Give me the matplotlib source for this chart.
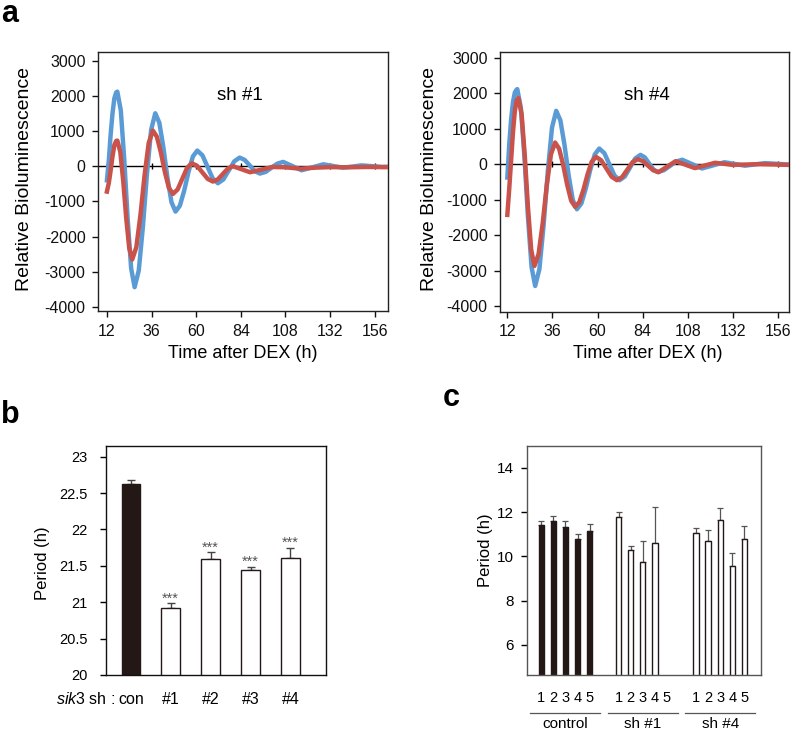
import numpy as np
import matplotlib
matplotlib.use('Agg')
import matplotlib.pyplot as plt
import matplotlib.transforms as mtransforms

plt.rcParams['font.family'] = ['Liberation Sans', 'DejaVu Sans']
plt.rcParams['axes.unicode_minus'] = False
plt.rcParams['mathtext.fontset'] = 'custom'
plt.rcParams['mathtext.rm'] = 'Liberation Sans'
plt.rcParams['mathtext.it'] = 'Liberation Sans:italic'

# ---------------- data: panel a ----------------
a_xticks = [12, 36, 60, 84, 108, 132, 156]
a_yticks = [-4000, -3000, -2000, -1000, 0, 1000, 2000, 3000]

# sh #1 panel: blue (control) and red (knock-down) traces
t_sh1_blue = [12, 13, 14, 15, 16, 17, 17.6, 19.46, 21.32, 23.18, 25.04, 26.9, 29.12, 31.34, 33.56,
              35.78, 38.0, 40.18, 42.36, 44.54, 46.72, 48.9, 51.24, 53.58, 55.92, 58.26, 60.6, 63.4,
              66.15, 68.9, 71.7, 74.6, 77.55, 80.5, 83.4, 86.1, 88.85, 91.6, 94.3, 97.4, 100.55, 103.7,
              106.8, 111.75, 116.7, 122.55, 128.4, 133.7, 139, 144, 149, 154.5, 160, 163]
v_sh1_blue = [-400, 150, 900, 1500, 1930, 2100, 2120, 1589, 200, -1517, -2906, -3437, -2965, -1729, -202,
              1034, 1506, 1239, 541, -323, -1021, -1288, -1122, -689, -154, 280, 445, 309,
              -19, -347, -483, -376, -118, 139, 246, 180, 19, -142, -208, -160, -42, 75,
              123, 5, -114, -30, 55, 7, -40, -8, 25, 2, -20, -15]
t_sh1_red = [12, 13, 14, 15, 16, 17, 17.6, 19.2, 20.8, 22.4, 24.0, 25.6, 27.82, 30.04, 32.26, 34.48,
             36.7, 38.86, 41.02, 43.18, 45.34, 47.5, 50.05, 52.6, 55.15, 57.7, 60.5, 63.35, 66.2, 69,
             71.7, 74.4, 77.1, 79.8, 84.4, 89, 95, 101, 108, 116, 124, 132, 142, 152, 163]
v_sh1_red = [-720, -480, -120, 280, 600, 720, 729, 406, -439, -1483, -2328, -2651, -2301, -1385, -253, 663,
             1013, 841, 391, -164, -614, -786, -658, -350, -43, 85, 9, -175, -359, -435,
             -371, -218, -64, 0, -85, -170, -97, -20, -30, -70, -40, -25, -30, -20, -25]

# sh #4 panel
t_sh4_blue = [12, 13, 14, 15, 16, 17, 17.3, 19.2, 21.1, 23.0, 24.9, 26.8, 29.04, 31.28, 33.52, 35.76,
              38.0, 40.2, 42.4, 44.6, 46.8, 49.0, 51.38, 53.76, 56.14, 58.52, 60.9, 63.6, 66.3, 69.0,
              71.7, 74.475, 77.25, 80.0, 82.8, 85.1, 87.4, 89.7, 92, 95.25, 98.5, 101.75, 105, 110.25,
              115.5, 121.5, 127.5, 133, 138.4, 143.7, 149, 155.5, 162]
v_sh4_blue = [-375, 550, 1250, 1750, 2020, 2105, 2113, 1584, 199, -1513, -2898, -3427, -2956, -1724, -201, 1031,
              1502, 1237, 545, -311, -1003, -1268, -1105, -678, -149, 278, 441, 311, -5, -320,
              -450, -346, -93, 159, 263, 192, 21, -149, -220, -169, -48, 74, 125, 3,
              -120, -32, 55, 6, -42, -6, 30, 10, -10]
t_sh4_red = [12, 13, 14, 15, 16, 17, 17.9, 19.6, 21.3, 23.0, 24.7, 26.4, 28.6, 30.8, 33.0, 35.2, 37.4,
             39.54, 41.68, 43.82, 45.96, 48.1, 50.3, 52.5, 54.7, 56.9, 59.1, 61.9, 64.7, 67.5, 70.3,
             73.05, 75.8, 78.55, 81.3, 84.1, 86.85, 89.6, 92.4, 96.95, 101.5, 106.65, 111.8, 117.15,
             122.5, 127.25, 132, 145, 155, 162]
v_sh4_red = [-1427, -700, 100, 900, 1500, 1800, 1859, 1408, 227, -1232, -2413, -2864, -2532, -1664, -590, 278, 610,
             437, -16, -576, -1029, -1202, -1067, -715, -280, 72, 207, 111, -122, -354, -450,
             -363, -155, 54, 141, 87, -42, -171, -225, -70, 85, -13, -110, -35,
             40, 10, -20, 0, -10, -20]

# ---------------- data: panel b ----------------
b_labels = ['con', '#1', '#2', '#3', '#4']
b_vals = [22.62, 20.92, 21.60, 21.44, 21.61]
b_err = [0.06, 0.07, 0.09, 0.05, 0.14]
b_sig = ['', '***', '***', '***', '***']
b_yticks = [20, 20.5, 21, 21.5, 22, 22.5, 23]

# ---------------- data: panel c ----------------
c_groups = ['control', 'sh #1', 'sh #4']
c_clone_labels = ['1', '2', '3', '4', '5']
c_control = [11.43, 11.58, 11.34, 10.77, 11.13]
c_control_err = [0.15, 0.24, 0.24, 0.25, 0.33]
c_sh1 = [11.78, 10.27, 9.75, 10.60, np.nan]
c_sh1_err = [0.22, 0.18, 0.93, 1.63, np.nan]
c_sh4 = [11.05, 10.69, 11.64, 9.57, 10.78]
c_sh4_err = [0.23, 0.48, 0.56, 0.58, 0.57]
c_yticks = [6, 8, 10, 12, 14]

# ---------------- figure ----------------
W, H = 791, 730
fig = plt.figure(figsize=(W / 100, H / 100), dpi=100)


def px_axes(l, t, r, b):
    return fig.add_axes([l / W, 1 - b / H, (r - l) / W, (b - t) / H])


BLUE = '#5B9BD5'
RED = '#C9524B'
DARK = '#231815'


def panel_a(ax, tb, vb, tr, vr, title, tpos, xlim, ylim):
    ax.axhline(0, color='black', lw=1, zorder=1)
    ax.plot(a_xticks, [0] * len(a_xticks), ls='none', marker='|', ms=4, mew=1,
            color='black', zorder=1)
    ax.plot(tb, vb, color=BLUE, lw=3.2, zorder=2)
    ax.plot(tr, vr, color=RED, lw=3.2, zorder=3)
    ax.set_xlim(xlim)
    ax.set_ylim(ylim)
    ax.set_xticks(a_xticks)
    ax.set_yticks(a_yticks)
    ax.tick_params(direction='out', length=4, width=1, labelsize=11.5, pad=5, colors='#111')
    ax.text(tpos[0], tpos[1], title, fontsize=13.5, ha='center', va='center')
    for s in ax.spines.values():
        s.set_color('#222')
        s.set_linewidth(1)


ax1 = px_axes(98, 52, 388, 311)
panel_a(ax1, t_sh1_blue, v_sh1_blue, t_sh1_red, v_sh1_red, 'sh #1', (83.5, 2017),
        (7.2, 163.2), (-4114, 3247))
ax2 = px_axes(500, 52, 789, 312)
panel_a(ax2, t_sh4_blue, v_sh4_blue, t_sh4_red, v_sh4_red, 'sh #4', (86.1, 1932),
        (8.1, 161.8), (-4160, 3158))

for xc in (25, 430):
    fig.text(xc / W, 1 - 179 / H, 'Relative Bioluminescence', rotation=90,
             ha='center', va='center', fontsize=14)
for xc in (242.5, 647.5):
    fig.text(xc / W, 1 - 353 / H, 'Time after DEX (h)', ha='center', va='center', fontsize=13)

# ---------------- panel b ----------------
axb = px_axes(106, 446, 326, 675)
xb = np.arange(len(b_labels))
bcolors = [DARK] + ['white'] * (len(b_labels) - 1)
axb.bar(xb, b_vals, width=0.46, color=bcolors, edgecolor=DARK, linewidth=1, zorder=2)
axb.errorbar(xb, b_vals, yerr=[np.zeros(len(b_err)), b_err], fmt='none', ecolor='#444',
             elinewidth=1, capsize=3, capthick=1, zorder=1)
for x, v, e, s in zip(xb, b_vals, b_err, b_sig):
    if s:
        axb.text(x, v + e + 0.005, s, ha='center', va='baseline', fontsize=10.5, color='#555')
axb.set_xlim(-0.62, 4.89)
axb.set_ylim(20, 23.146)
axb.set_yticks(b_yticks)
axb.set_yticklabels([f'{t:g}' for t in b_yticks])
axb.set_xticks([])
axb.tick_params(axis='y', direction='out', length=4, width=1, labelsize=10.5, pad=9)
for s in axb.spines.values():
    s.set_color('#111')
    s.set_linewidth(1)
tb = mtransforms.blended_transform_factory(axb.transData, axb.transAxes)
ylab_b = -(699 - 675) / 229
for x, lab in zip(xb, b_labels):
    axb.text(x, ylab_b, lab, transform=tb, ha='center', va='center', fontsize=11.5)
axb.text(-0.40, ylab_b, r'$\it{sik3}$ sh :', transform=tb, ha='right', va='center', fontsize=11.5)
fig.text(43 / W, 1 - 563 / H, 'Period (h)', rotation=90, ha='center', va='center', fontsize=12)

# ---------------- panel c ----------------
axc = px_axes(526.7, 446, 761, 675)
group_step = 6.4
tc = mtransforms.blended_transform_factory(axc.transData, axc.transAxes)
series_c = [(c_control, c_control_err, DARK), (c_sh1, c_sh1_err, 'white'), (c_sh4, c_sh4_err, 'white')]
for g, (vals, errs, col) in enumerate(series_c):
    xs = g * group_step + np.arange(len(vals))
    vals = np.array(vals, dtype=float)
    errs = np.array(errs, dtype=float)
    ok = ~np.isnan(vals)
    axc.bar(xs[ok], vals[ok], width=0.44, color=col, edgecolor=DARK, linewidth=1, zorder=2)
    axc.errorbar(xs[ok], vals[ok], yerr=[np.zeros(ok.sum()), errs[ok]], fmt='none',
                 ecolor='#555', elinewidth=0.9, capsize=2.2, capthick=0.9, zorder=1)
    for x, lab in zip(xs, c_clone_labels):
        axc.text(x, -(698 - 675) / 229, lab, transform=tc, ha='center', va='center', fontsize=10.5)
    cen = g * group_step + (len(vals) - 1) / 2
    axc.plot([cen - 2.9, cen + 2.9], [-(713.3 - 675) / 229] * 2, transform=tc, color='#555',
             lw=0.9, clip_on=False)
    axc.text(cen, -(728.5 - 675) / 229, c_groups[g], transform=tc, ha='center', va='baseline',
             fontsize=11)
axc.set_xlim(-1.2, 18.17)
axc.set_ylim(4.646, 14.98)
axc.set_yticks(c_yticks)
axc.set_xticks([])
axc.tick_params(axis='y', direction='out', length=4, width=1, labelsize=11, pad=5.5)
for s in axc.spines.values():
    s.set_color('#555')
    s.set_linewidth(1)
fig.text(485 / W, 1 - 550 / H, 'Period (h)', rotation=90, ha='center', va='center', fontsize=12)

# panel letters
fig.text(1 / W, 1 - 22 / H, 'a', fontsize=22, fontweight='bold', va='baseline', ha='left')
fig.text(1 / W, 1 - 423 / H, 'b', fontsize=22, fontweight='bold', va='baseline', ha='left')
fig.text(443 / W, 1 - 406 / H, 'c', fontsize=22, fontweight='bold', va='baseline', ha='left')

fig.savefig('out.png', dpi=100)
